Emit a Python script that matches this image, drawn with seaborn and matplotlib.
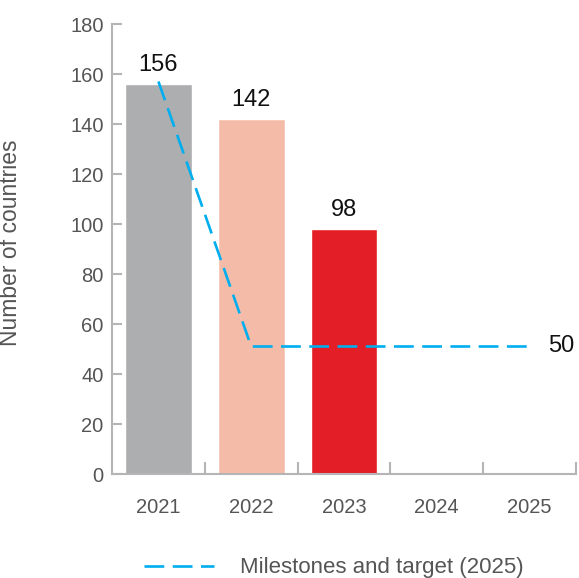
import matplotlib
matplotlib.use("Agg")
import matplotlib.pyplot as plt
from matplotlib.lines import Line2D
import pandas as pd
import seaborn as sns

# values
years = ["2021", "2022", "2023", "2024", "2025"]
countries = [156, 142, 98, 0, 0]
milestones = [157, 51, 51, 51, 51]
target_label = "50"
bar_colors = ["#ADAEB0", "#F4BCA8", "#E31E26", "#E6E6E6", "#E6E6E6"]

sns.set_theme(style="ticks")
plt.rcParams["font.family"] = ["Liberation Sans", "DejaVu Sans"]

df = pd.DataFrame({"year": years, "countries": countries})

fig = plt.figure(figsize=(5.79, 5.78), dpi=100)
ax = fig.add_axes([112 / 579, 1 - 474 / 578, 464 / 579, 450 / 578])

sns.barplot(data=df, x="year", y="countries", hue="year", palette=bar_colors,
            width=0.72, legend=False, saturation=1, ax=ax)

# zero bars show as thin light line
for p in ax.patches:
    if p.get_height() == 0:
        p.set_edgecolor("#E0E0E0")
        p.set_linewidth(1)

for cont, v in zip(ax.containers, countries):
    ax.bar_label(cont, labels=[str(v) if v > 0 else ""], padding=6,
                 fontsize=17, color="#111111")

line_color = "#00AEEF"
dash = (7.5, 3.2)
ax.plot(range(len(years)), milestones, color=line_color, lw=1.9,
        dashes=dash, zorder=5)
ax.text(len(years) - 1 + 0.2, milestones[-1], target_label, fontsize=17,
        color="#111111", va="center", ha="left", clip_on=False)

ax.set_ylim(0, 180)
ax.set_xlim(-0.5, len(years) - 0.5)
ax.set_yticks(range(0, 181, 20))
ax.set_xlabel("")
ax.set_ylabel("Number of countries", fontsize=16.5, color="#555555")
ax.yaxis.set_label_coords(-0.194, 0.515)

sns.despine(ax=ax)
for s in ["left", "bottom"]:
    ax.spines[s].set_color("#B5B5B8")
    ax.spines[s].set_linewidth(1.5)

ax.tick_params(axis="y", direction="in", length=7, width=1.5, color="#B5B5B8",
               labelsize=14.5, labelcolor="#555555", pad=6)
ax.tick_params(axis="x", which="major", length=0, labelsize=14.5,
               labelcolor="#555555", pad=17)
ax.set_xticks([i + 0.5 for i in range(len(years) - 1)] + [len(years) - 0.5], minor=True)
ax.tick_params(axis="x", which="minor", direction="in", length=9, width=1.5,
               color="#B5B5B8")

handle = Line2D([], [], color=line_color, lw=1.9, dashes=dash)
fig.legend([handle], ["Milestones and target (2025)"], loc="center",
           bbox_to_anchor=(0.577, 1 - 568 / 578), frameon=False, fontsize=16,
           labelcolor="#555555", handlelength=3.15, handletextpad=1.17)

fig.savefig("out.png", dpi=100)
